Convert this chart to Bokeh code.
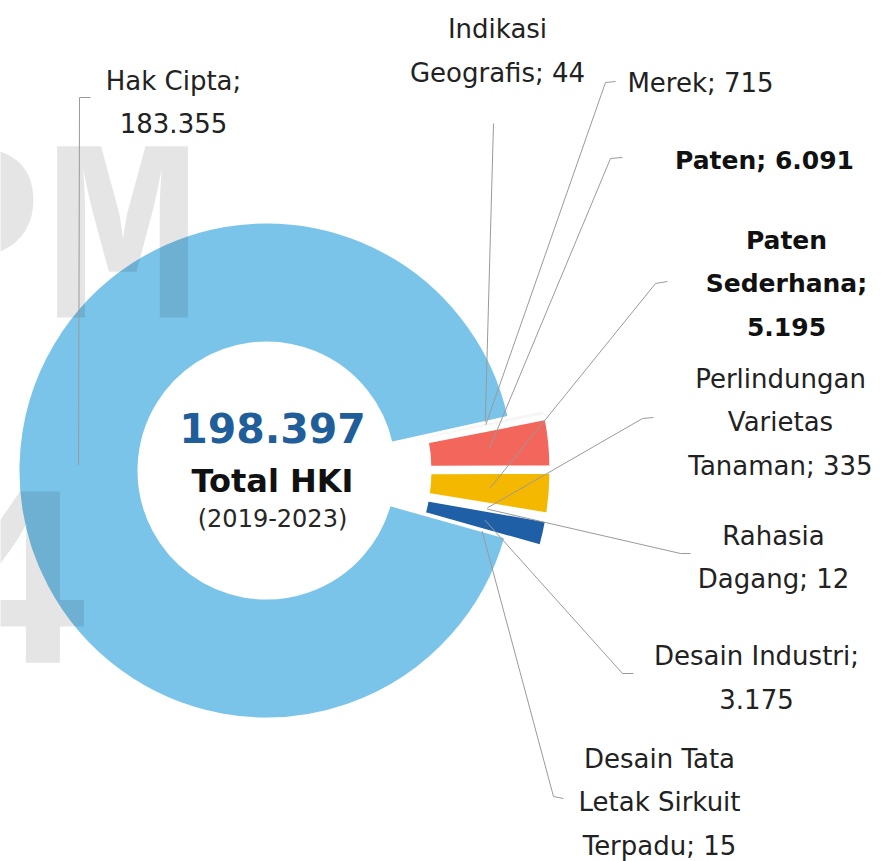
import math
from bokeh.plotting import figure
from bokeh.models import Range1d, ColumnDataSource
from bokeh.core.properties import value
from bokeh.embed import file_html
from bokeh.resources import INLINE

# ---------------- data ----------------
categories = ["Indikasi Geografis", "Merek", "Paten", "Paten Sederhana",
              "Perlindungan Varietas Tanaman", "Rahasia Dagang", "Desain Industri",
              "Desain Tata Letak Sirkuit Terpadu", "Hak Cipta"]
values = [44, 715, 6091, 5195, 335, 12, 3175, 15, 183355]
label_lines = [["Indikasi", "Geografis; 44"],
               ["Merek; 715"],
               ["Paten; 6.091"],
               ["Paten", "Sederhana;", "5.195"],
               ["Perlindungan", "Varietas", "Tanaman; 335"],
               ["Rahasia", "Dagang; 12"],
               ["Desain Industri;", "3.175"],
               ["Desain Tata", "Letak Sirkuit", "Terpadu; 15"],
               ["Hak Cipta;", "183.355"]]
label_bold = [False, False, True, True, False, False, False, False, False]
center_total = "198.397"
center_title = "Total HKI"
center_period = "(2019-2023)"
watermark_top = "PM"
watermark_bottom = "4"

# ---------------- styles / layout ----------------
colors = ["#f6f6f6", "#f6f6f6", "#f2665b", "#f5b800", "#f6f6f6", "#f6f6f6",
          "#1f5fa6", "#f6f6f6", "#7ac4ea"]
explode = [36, 36, 36, 36, 36, 36, 36, 36, 0]
W, H = 887, 861


def sy(y):
    return H - y


CX, CY = 266, 470
R_OUT, R_IN = 248, 128
START_DEG = 12.5
label_x = [497, 700, 764, 786, 780, 773, 756, 659, 173]
label_y0 = [28, 82, 160, 240, 378, 535, 655, 758, 80]
line_step = [44, 0, 0, 43, 43.5, 43, 43, 43.5, 42]
anchor_pts = [
    [(493, 123)],
    [(615, 81), (605, 82)],
    [(622, 157), (610, 158)],
    [(667, 281), (655, 283)],
    [(653, 417), (642, 418)],
    [(690, 553), (680, 553)],
    [(633, 673), (622, 673)],
    [(563, 798), (553, 796)],
    [(90, 97), (79, 97)],
]
FONT = "DejaVu Sans"

p = figure(width=W, height=H, output_backend="svg", toolbar_location=None,
           x_range=Range1d(0, W), y_range=Range1d(0, H),
           min_border=0, outline_line_color=None, background_fill_color="white",
           border_fill_color="white")
p.axis.visible = False
p.grid.visible = False

# ---------------- slices ----------------
total = float(sum(values))
angle = START_DEG
wx, wy, starts, ends, mids = [], [], [], [], []
for v, e in zip(values, explode):
    span = v / total * 360.0
    hi = angle
    lo = angle - span
    mid = (hi + lo) / 2.0
    mr = math.radians(mid)
    wx.append(CX + e * math.cos(mr))
    wy.append(sy(CY) + e * math.sin(mr))
    starts.append(math.radians(lo))
    ends.append(math.radians(hi))
    mids.append(mr)
    angle = lo

src = ColumnDataSource(dict(x=wx, y=wy, start=starts, end=ends, color=colors, cat=categories))
p.annular_wedge(x="x", y="y", inner_radius=R_IN, outer_radius=R_OUT,
                start_angle="start", end_angle="end", fill_color="color",
                line_color="white", line_width=2, source=src)

# ---------------- watermark ----------------
p.text(x=[200], y=[sy(248)], text=[watermark_top], text_font=value("Liberation Mono"),
       text_font_style="bold", text_font_size=value("260px"), text_color="black",
       text_alpha=0.1, text_align="right", text_baseline="middle")
p.text(x=[91], y=[sy(575)], text=[watermark_bottom], text_font=value("Liberation Mono"),
       text_font_style="bold", text_font_size=value("260px"), text_color="black",
       text_alpha=0.1, text_align="right", text_baseline="middle")

# ---------------- leader lines ----------------
RM = (R_IN + R_OUT) / 2.0
xs, ys = [], []
for i, pts in enumerate(anchor_pts):
    ex = wx[i] + RM * math.cos(mids[i])
    ey = wy[i] + RM * math.sin(mids[i])
    xs.append([pt[0] for pt in pts] + [ex])
    ys.append([sy(pt[1]) for pt in pts] + [ey])
p.multi_line(xs=xs, ys=ys, line_color="#9a9a9a", line_width=1)

# ---------------- labels ----------------
reg = dict(x=[], y=[], t=[])
bold = dict(x=[], y=[], t=[])
for i, lines in enumerate(label_lines):
    d = bold if label_bold[i] else reg
    for k, t in enumerate(lines):
        d["x"].append(label_x[i])
        d["y"].append(sy(label_y0[i] + k * line_step[i]))
        d["t"].append(t)

p.text(x="x", y="y", text="t", source=ColumnDataSource(reg), text_font=value(FONT),
       text_font_size=value("26px"), text_color="#222222", text_align="center",
       text_baseline="middle")
p.text(x="x", y="y", text="t", source=ColumnDataSource(bold), text_font=value(FONT),
       text_font_style="bold", text_font_size=value("25px"), text_color="#111111",
       text_align="center", text_baseline="middle")

# ---------------- centre text ----------------
TX = CX + 6
p.text(x=[TX], y=[sy(427)], text=[center_total], text_font=value(FONT), text_font_style="bold",
       text_font_size=value("41px"), text_color="#1f5e99", text_align="center",
       text_baseline="middle")
p.text(x=[TX], y=[sy(480)], text=[center_title], text_font=value(FONT), text_font_style="bold",
       text_font_size=value("32px"), text_color="#111111", text_align="center",
       text_baseline="middle")
p.text(x=[TX], y=[sy(518)], text=[center_period], text_font=value(FONT),
       text_font_size=value("24px"), text_color="#262626", text_align="center",
       text_baseline="middle")

open("out.html", "w").write(file_html(p, INLINE))
